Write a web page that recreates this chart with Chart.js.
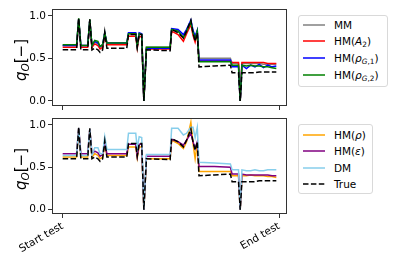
<!DOCTYPE html>
<html lang="en">
<head>
    <meta charset="UTF-8">
    <title>q_O test comparison</title>
    <script src="https://cdn.jsdelivr.net/npm/chart.js"></script>
    <style>
        body {
            margin: 0;
            padding: 0;
            background: #fff;
            font-family: "DejaVu Sans", sans-serif;
        }
        .figure {
            position: relative;
            width: 399px;
            height: 266px;
            overflow: hidden;
            background: #fff;
        }
        .figure canvas {
            position: absolute;
            left: 0;
        }
        .ylabel {
            position: absolute;
            font-size: 15px;
            white-space: nowrap;
            transform: translate(-50%, -50%) rotate(-90deg);
            color: #000;
        }
        .ylabel sub, .legend sub {
            font-size: 70%;
            vertical-align: -0.25em;
            line-height: 0;
        }
        .legend {
            position: absolute;
            border: 1px solid #d9d9d9;
            border-radius: 3px;
            background: rgba(255, 255, 255, 0.8);
            box-sizing: border-box;
        }
        .legend .row {
            position: absolute;
            left: 4px;
            height: 14px;
            display: flex;
            align-items: center;
            font-size: 10.5px;
            white-space: nowrap;
            color: #000;
        }
        .legend svg {
            margin-right: 9px;
        }
    </style>
</head>
<body>
    <div class="figure">
        <canvas id="topChart" width="295" height="112" style="top:0"></canvas>
        <canvas id="bottomChart" width="295" height="154" style="top:112px"></canvas>
        <div class="ylabel" style="left:21px; top:60px"><i>q</i><sub><i>O</i></sub>[−]</div>
        <div class="ylabel" style="left:21px; top:169px"><i>q</i><sub><i>O</i></sub>[−]</div>
        <div class="legend" id="topLegend" style="left:298px; top:15px; width:90px; height:72px"></div>
        <div class="legend" id="bottomLegend" style="left:298px; top:124px; width:75px; height:70px"></div>
    </div>

    <script>
        // shared time axis (arbitrary units, start test = 0, end of data = 100)
        const time = [0, 6.5, 7.5, 8.5, 11.7, 12.7, 13.7, 15, 16.5, 17.5, 18.7, 19.7, 20.7, 30, 30.8,
            34.2, 34.9, 35.8, 37, 38, 39.2, 50.3, 51, 54, 56.5, 58, 60, 61, 62, 63,
            63.8, 71, 78.5, 79.3, 82.3, 83.1, 83.9, 86, 88, 90, 92, 94, 96, 98, 100];

        const trueVals = [0.60, 0.60, 0.97, 0.60, 0.60, 0.96, 0.60, 0.62, 0.60, 0.57, 0.60, 0.81, 0.62, 0.62, 0.78,
            0.78, 0.63, 0.78, 0.78, 0.00, 0.60, 0.59, 0.84, 0.80, 0.74, 0.82, 0.95, 0.80, 0.70, 0.80,
            0.40, 0.41, 0.42, 0.33, 0.33, 0.00, 0.33, 0.33, 0.33, 0.33, 0.34, 0.34, 0.34, 0.34, 0.34];
        const mmVals = [0.65, 0.65, 0.96, 0.65, 0.65, 0.95, 0.65, 0.69, 0.67, 0.63, 0.65, 0.79, 0.68, 0.68, 0.79,
            0.79, 0.65, 0.79, 0.78, 0.00, 0.63, 0.63, 0.84, 0.82, 0.76, 0.83, 0.93, 0.81, 0.74, 0.82,
            0.50, 0.50, 0.50, 0.44, 0.44, 0.00, 0.44, 0.44, 0.44, 0.44, 0.44, 0.43, 0.43, 0.43, 0.43];
        const hmA2Vals = [0.63, 0.63, 0.95, 0.63, 0.63, 0.94, 0.63, 0.67, 0.65, 0.61, 0.63, 0.77, 0.66, 0.66, 0.76,
            0.76, 0.62, 0.76, 0.75, 0.00, 0.61, 0.61, 0.82, 0.78, 0.70, 0.79, 0.90, 0.77, 0.69, 0.80,
            0.47, 0.47, 0.47, 0.45, 0.45, 0.00, 0.45, 0.45, 0.45, 0.45, 0.45, 0.45, 0.44, 0.44, 0.44];
        const hmRhoG1Vals = [0.65, 0.65, 0.96, 0.65, 0.65, 0.95, 0.65, 0.70, 0.68, 0.64, 0.66, 0.80, 0.68, 0.68, 0.80,
            0.80, 0.65, 0.80, 0.79, 0.00, 0.62, 0.62, 0.85, 0.84, 0.78, 0.84, 0.95, 0.83, 0.76, 0.83,
            0.48, 0.48, 0.48, 0.40, 0.40, 0.00, 0.42, 0.38, 0.42, 0.40, 0.43, 0.39, 0.42, 0.40, 0.41];
        const hmRhoG2Vals = [0.66, 0.66, 0.97, 0.65, 0.65, 0.96, 0.65, 0.71, 0.70, 0.64, 0.66, 0.80, 0.68, 0.68, 0.79,
            0.79, 0.64, 0.79, 0.78, 0.00, 0.63, 0.63, 0.84, 0.82, 0.74, 0.82, 0.93, 0.80, 0.73, 0.82,
            0.46, 0.46, 0.46, 0.42, 0.42, 0.00, 0.42, 0.41, 0.42, 0.41, 0.41, 0.40, 0.40, 0.39, 0.38];
        const hmRhoVals = [0.62, 0.62, 0.95, 0.62, 0.62, 0.94, 0.62, 0.66, 0.64, 0.60, 0.62, 0.76, 0.64, 0.64, 0.74,
            0.74, 0.61, 0.74, 0.74, 0.00, 0.60, 0.60, 0.82, 0.78, 0.72, 0.80, 1.03, 0.78, 0.60, 0.78,
            0.45, 0.45, 0.45, 0.40, 0.40, 0.00, 0.40, 0.40, 0.41, 0.40, 0.40, 0.40, 0.39, 0.39, 0.38];
        const hmEpsVals = [0.66, 0.66, 0.96, 0.66, 0.66, 0.95, 0.66, 0.69, 0.67, 0.63, 0.65, 0.78, 0.66, 0.66, 0.77,
            0.77, 0.63, 0.77, 0.77, 0.00, 0.63, 0.63, 0.83, 0.80, 0.76, 0.82, 0.90, 0.80, 0.72, 0.80,
            0.51, 0.51, 0.50, 0.42, 0.42, 0.00, 0.42, 0.41, 0.41, 0.41, 0.41, 0.41, 0.41, 0.40, 0.40];
        const dmVals = [0.64, 0.64, 0.96, 0.64, 0.64, 0.95, 0.64, 0.73, 0.73, 0.66, 0.66, 0.86, 0.71, 0.71, 0.90,
            0.90, 0.72, 0.86, 0.85, 0.00, 0.65, 0.65, 0.96, 0.96, 0.88, 0.90, 0.97, 0.97, 0.85, 0.97,
            0.56, 0.55, 0.54, 0.47, 0.47, 0.00, 0.47, 0.46, 0.46, 0.47, 0.46, 0.46, 0.47, 0.47, 0.47];

        const xTickValues = [0, 101.3];
        const xTickLabels = ["Start test", "End test"];
        const yTickValues = [0, 0.5, 1.0];

        const topSeries = [
            { name: "MM", html: "MM", data: mmVals, color: "#808080" },
            { name: "HM(A2)", html: "HM(<i>A</i><sub>2</sub>)", data: hmA2Vals, color: "#ff0000" },
            { name: "HM(rhoG1)", html: "HM(<i>ρ</i><sub><i>G</i>,1</sub>)", data: hmRhoG1Vals, color: "#0000ff" },
            { name: "HM(rhoG2)", html: "HM(<i>ρ</i><sub><i>G</i>,2</sub>)", data: hmRhoG2Vals, color: "#008000" },
            { name: "True", html: "True", data: trueVals, color: "#000000", dash: true, noLegend: true }
        ];
        const bottomSeries = [
            { name: "HM(rho)", html: "HM(<i>ρ</i>)", data: hmRhoVals, color: "#ffa500" },
            { name: "HM(eps)", html: "HM(<i>ε</i>)", data: hmEpsVals, color: "#800080" },
            { name: "DM", html: "DM", data: dmVals, color: "#87ceeb" },
            { name: "True", html: "True", data: trueVals, color: "#000000", dash: true }
        ];

        // axes frame on all four sides, like matplotlib spines
        const frame = {
            id: "frame",
            afterDraw(chart) {
                const a = chart.chartArea, ctx = chart.ctx;
                ctx.save();
                ctx.strokeStyle = "#333";
                ctx.lineWidth = 1;
                ctx.strokeRect(Math.round(a.left) + 0.5, Math.round(a.top) + 0.5,
                    Math.round(a.right - a.left) - 1, Math.round(a.bottom - a.top) - 1);
                ctx.restore();
            }
        };

        function makeChart(id, series, opts) {
            return new Chart(document.getElementById(id), {
                type: "line",
                data: {
                    datasets: series.map((s, i) => ({
                        label: s.name,
                        data: time.map((t, k) => ({ x: t, y: s.data[k] })),
                        borderColor: s.color,
                        borderWidth: 1.5,
                        borderDash: s.dash ? [5.5, 2.4] : [],
                        pointRadius: 0,
                        tension: 0,
                        fill: false,
                        order: series.length - i   // later series drawn on top
                    }))
                },
                options: {
                    responsive: false,
                    animation: false,
                    devicePixelRatio: 1,
                    layout: { padding: { top: opts.top, right: 8, left: 0, bottom: 0 } },
                    plugins: { legend: { display: false }, tooltip: { enabled: false } },
                    scales: {
                        x: {
                            type: "linear",
                            min: -5,
                            max: 105,
                            border: { display: false },
                            grid: { drawOnChartArea: false, color: "#333", tickLength: 4, lineWidth: 1 },
                            afterBuildTicks: s => { s.ticks = xTickValues.map(v => ({ value: v })); },
                            afterFit: s => {
                                s.height = opts.xHeight;
                                s.paddingLeft = 0;
                                s.paddingRight = 0;
                            },
                            ticks: {
                                display: opts.xLabels,
                                autoSkip: false,
                                minRotation: 30,
                                maxRotation: 30,
                                padding: 2,
                                color: "#000",
                                font: { family: "DejaVu Sans", size: 10.5 },
                                callback: v => xTickLabels[xTickValues.indexOf(v)]
                            }
                        },
                        y: {
                            min: opts.ymin,
                            max: opts.ymax,
                            border: { display: false },
                            grid: { drawOnChartArea: false, color: "#333", tickLength: 4, lineWidth: 1 },
                            afterBuildTicks: s => { s.ticks = yTickValues.map(v => ({ value: v })); },
                            afterFit: s => {
                                s.width = 52;
                                s.paddingTop = 0;
                                s.paddingBottom = 0;
                            },
                            ticks: {
                                padding: 2,
                                color: "#000",
                                font: { family: "DejaVu Sans", size: 10.5 },
                                callback: v => v.toFixed(1)
                            }
                        }
                    }
                },
                plugins: [frame]
            });
        }

        function makeLegend(id, series, rowTops) {
            const box = document.getElementById(id);
            series.filter(s => !s.noLegend).forEach((s, i) => {
                const row = document.createElement("div");
                row.className = "row";
                row.style.top = rowTops[i] + "px";
                const dash = s.dash ? ' stroke-dasharray="5.5 2.4"' : "";
                row.innerHTML = '<svg width="22" height="4"><line x1="0" y1="2" x2="22" y2="2" stroke="' +
                    s.color + '" stroke-width="1.5"' + dash + '/></svg><span>' + s.html + "</span>";
                box.appendChild(row);
            });
        }

        makeChart("topChart", topSeries, { top: 9, xHeight: 6, xLabels: false, ymin: -0.06, ymax: 1.08 });
        makeChart("bottomChart", bottomSeries, { top: 6, xHeight: 52, xLabels: true, ymin: -0.05, ymax: 1.08 });
        makeLegend("topLegend", topSeries, [1.5, 18, 35, 52]);
        makeLegend("bottomLegend", bottomSeries, [2.5, 19, 35.5, 51.5]);
    </script>
</body>
</html>
